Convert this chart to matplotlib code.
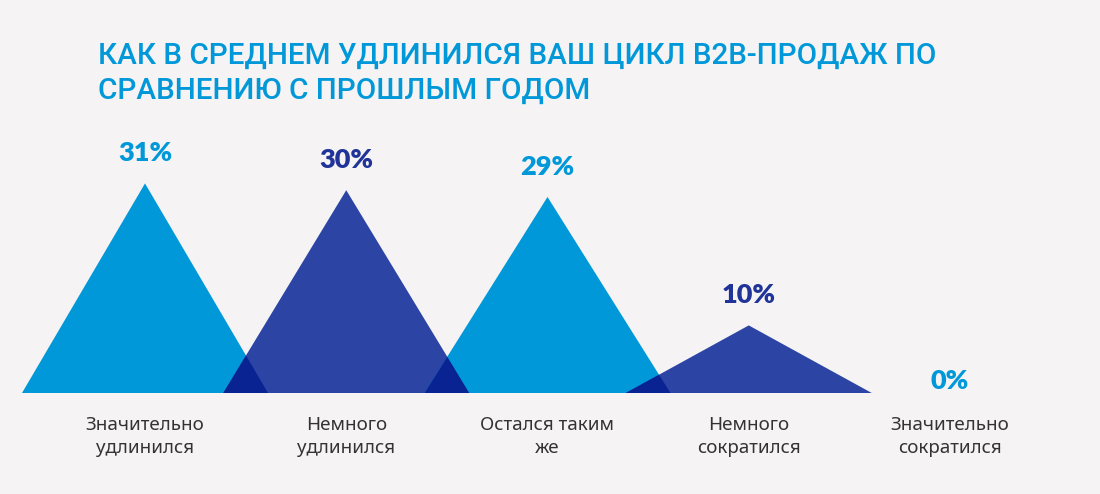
import matplotlib
matplotlib.use("Agg")
import matplotlib.pyplot as plt
from matplotlib.patches import Polygon

categories = ["Значительно\nудлинился", "Немного\nудлинился", "Остался таким\nже",
              "Немного\nсократился", "Значительно\nсократился"]
values = [31, 30, 29, 10, 0]
labels = ["31%", "30%", "29%", "10%", "0%"]
title = "КАК В СРЕДНЕМ УДЛИНИЛСЯ ВАШ ЦИКЛ B2B-ПРОДАЖ ПО\nСРАВНЕНИЮ С ПРОШЛЫМ ГОДОМ"

BG = "#f5f3f4"
LIGHT = "#0098d8"
DARK = "#2c44a4"
OVER = "#0a2392"
LABEL_DARK = "#1f3399"
TEXT = "#333333"

W, H = 1100, 494
fig = plt.figure(figsize=(W / 100, H / 100), dpi=100, facecolor=BG)
ax = fig.add_axes([0, 0, 1, 1])
ax.set_facecolor(BG)
ax.axis("off")

px_x = 201.25   # pixels per category
x0 = 145.0
px_y = 6.76     # pixels per percent
base_px = 101.0
ax.set_xlim(-x0 / px_x, (W - x0) / px_x)
ax.set_ylim(-base_px / px_y, (H - base_px) / px_y)

half = 123.0 / px_x
patches = []
for i, v in enumerate(values):
    col = LIGHT if i % 2 == 0 else DARK
    p = Polygon([[i - half, 0], [i, v], [i + half, 0]], closed=True,
                facecolor=col, edgecolor="none", zorder=2)
    ax.add_patch(p)
    patches.append(p)

# overlap regions
for i in range(len(values) - 1):
    a, b = patches[i], patches[i + 1]
    light = a if i % 2 == 0 else b
    dark = b if i % 2 == 0 else a
    ov = Polygon(light.get_xy(), closed=True, facecolor=OVER, edgecolor="none", zorder=3)
    ax.add_patch(ov)
    ov.set_clip_path(dark)

for i, (v, lab) in enumerate(zip(values, labels)):
    col = LIGHT if i % 2 == 0 else LABEL_DARK
    off = 13 if v > 0 else 0
    ax.annotate(lab, (i, v), xytext=(0, off), textcoords="offset points",
                ha="center", va="bottom", fontsize=19.5, fontweight="heavy",
                family=["Lato", "DejaVu Sans"], color=col, zorder=5)
    ax.annotate(categories[i], (i, 0), xytext=(0, -31), textcoords="offset points",
                ha="center", va="center", fontsize=13.5, linespacing=1.35,
                family=["Noto Sans", "DejaVu Sans"], color=TEXT, zorder=5)

fig.text(98 / W, 1 - 73 / H, title, ha="left", va="center", fontsize=21.3,
         fontweight="medium", family=["Roboto", "DejaVu Sans"], color=LIGHT,
         linespacing=1.33)

fig.savefig("out.png", dpi=100, facecolor=BG)
